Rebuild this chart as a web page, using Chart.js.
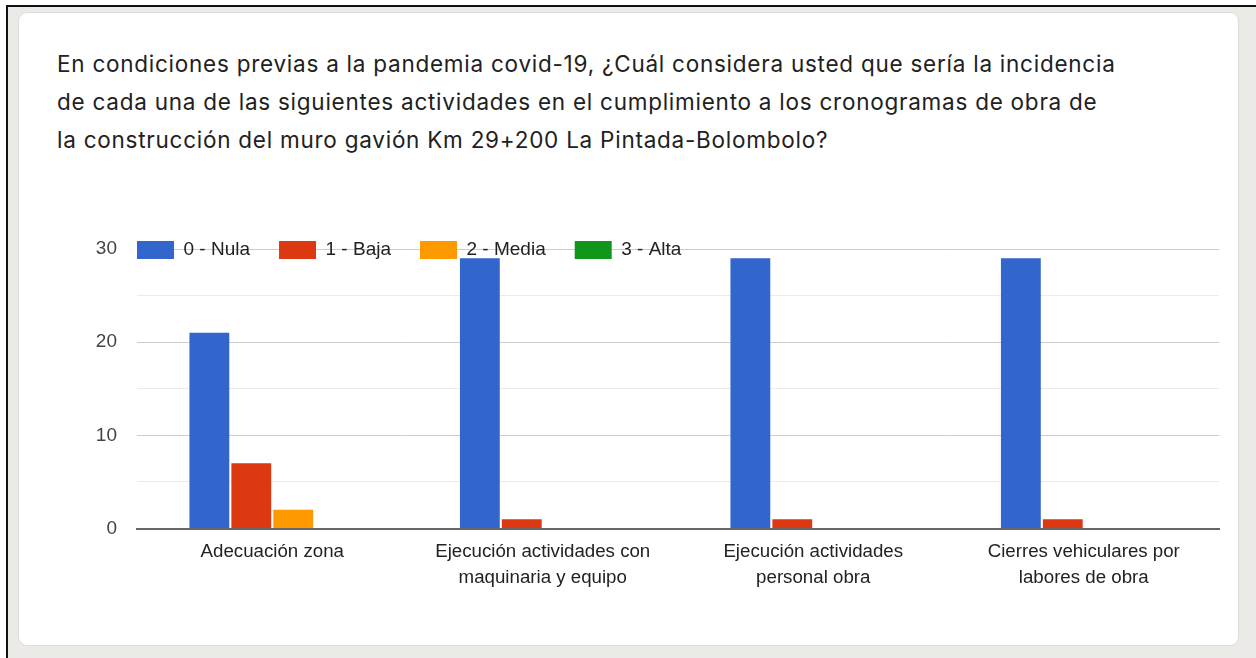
<!DOCTYPE html>
<html>
<head>
<meta charset="utf-8">
<script src="https://cdn.jsdelivr.net/npm/chart.js@4"></script>
<style>
  html, body { margin: 0; padding: 0; background: #fff; }
  body { width: 1256px; height: 658px; position: relative; overflow: hidden; }
  .frame {
    position: absolute; left: 6px; top: 5px; right: 0; bottom: 0;
    background: #ebeae6;
    border-top: 2px solid #111; border-left: 2px solid #111;
  }
  .card {
    position: absolute; left: 18px; top: 12px; width: 1219px; height: 632px;
    background: #fff; border: 1px solid #dcdcdc; border-radius: 9px;
  }
  .title {
    position: absolute; left: 57px; top: 45px;
    font-family: Inter, Roboto, sans-serif; font-size: 22.5px; line-height: 38px;
    letter-spacing: 0.75px;
    color: #212121; white-space: nowrap;
  }
  #chart { position: absolute; left: 0; top: 0; }
</style>
</head>
<body>
<div class="frame"></div>
<div class="card"></div>
<div class="title">
  En condiciones previas a la pandemia covid-19, ¿Cuál considera usted que sería la incidencia<br>
  de cada una de las siguientes actividades en el cumplimiento a los cronogramas de obra de<br>
  la construcción del muro gavión Km 29+200 La Pintada-Bolombolo?
</div>
<canvas id="chart" width="1256" height="658"></canvas>
<script>
const categories = [
    "Adecuación zona",
    ["Ejecución actividades con", "maquinaria y equipo"],
    ["Ejecución actividades", "personal obra"],
    ["Cierres vehiculares por", "labores de obra"]
];
const seriesNames = ["0 - Nula", "1 - Baja", "2 - Media", "3 - Alta"];
const nula = [21, 29, 29, 29];
const baja = [7, 1, 1, 1];
const media = [2, 0, 0, 0];
const alta = [0, 0, 0, 0];
const colors = ["#3366cc", "#dc3912", "#ff9900", "#109618"];

// legend sits on the top gridline (Google Charts style), so it takes no layout space
const legendOnGrid = {
    id: "legendOnGrid",
    beforeLayout(chart) {
        const lg = chart.legend;
        if (lg && !lg._noSpace) {
            const fit = lg.fit;
            lg.fit = function() {
                fit.call(this);
                this._realHeight = this.height;
                this.height = 0;
            };
            lg._noSpace = true;
        }
    },
    afterLayout(chart) {
        const lg = chart.legend;
        const area = chart.chartArea;
        const pad = lg.options.labels.padding;
        lg.left = area.left - pad;
        lg.right = area.right;
        lg.width = lg.right - lg.left;
        lg.top = area.top - 8.5 - pad;
        lg.height = lg._realHeight || 80;
        lg.bottom = lg.top + lg.height;
    }
};

const ctx = document.getElementById("chart").getContext("2d");
new Chart(ctx, {
    type: "bar",
    data: {
        labels: categories,
        datasets: [nula, baja, media, alta].map((values, i) => ({
            label: seriesNames[i],
            data: values,
            backgroundColor: colors[i],
            borderWidth: 0,
            categoryPercentage: 0.62,
            barPercentage: 0.95
        }))
    },
    options: {
        responsive: false,
        animation: false,
        layout: {
            padding: { left: 0, right: 37, top: 249, bottom: 49.5 }
        },
        plugins: {
            tooltip: { enabled: false },
            legend: {
                position: "top",
                align: "start",
                labels: {
                    boxWidth: 37,
                    boxHeight: 18,
                    padding: 29,
                    color: "#222",
                    font: { family: "'Liberation Sans', Arial, sans-serif", size: 19 }
                }
            }
        },
        scales: {
            x: {
                afterFit: (scale) => { scale.height = 80; },
                grid: { display: false, drawTicks: false },
                border: { display: true, color: "#666", width: 2 },
                ticks: {
                    padding: 10,
                    color: "#222",
                    maxRotation: 0,
                    font: { family: "'Liberation Sans', Arial, sans-serif", size: 18.7, lineHeight: 1.4 }
                }
            },
            y: {
                min: 0,
                max: 30,
                afterFit: (scale) => { scale.width = 137; },
                border: { display: false },
                grid: {
                    drawTicks: false,
                    color: (c) => c.tick.value % 10 === 0 ? "#cccccc" : "#ebebeb",
                    lineWidth: 1
                },
                ticks: {
                    stepSize: 5,
                    padding: 20,
                    color: "#444",
                    font: { family: "'Liberation Sans', Arial, sans-serif", size: 19 },
                    callback: (v) => v % 10 === 0 ? v : ""
                }
            }
        }
    },
    plugins: [legendOnGrid]
});
</script>
</body>
</html>
